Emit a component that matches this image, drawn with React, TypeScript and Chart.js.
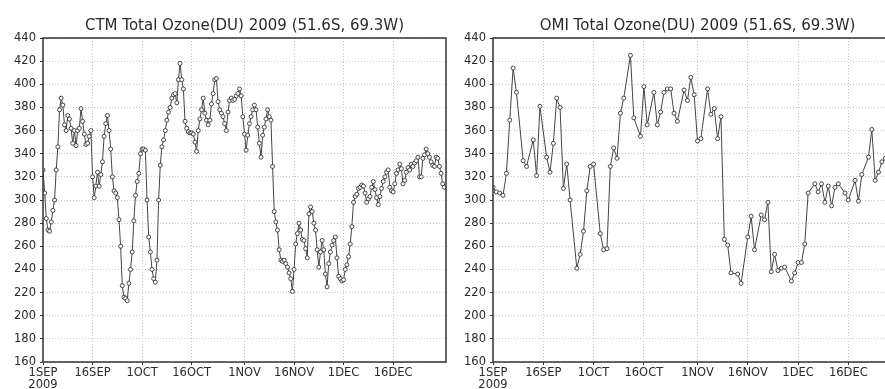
import React, { useEffect, useRef } from "react";
import { Chart, registerables } from "chart.js";

Chart.register(...registerables);

const tickDays = [0, 15, 30, 45, 61, 76, 91, 106];
const tickLabels = ["1SEP", "16SEP", "1OCT", "16OCT", "1NOV", "16NOV", "1DEC", "16DEC"];
const yearLabel = "2009";
const yMin = 160;
const yMax = 440;
const yStep = 20;
const xMaxDay = 122;

const ctmTitle = "CTM Total Ozone(DU) 2009 (51.6S, 69.3W)";
const omiTitle = "OMI Total Ozone(DU) 2009 (51.6S, 69.3W)";

// CTM: two values per day (00h, 12h), from 1 SEP
const ctmValues = [
  326, 306, 284, 274, 273, 281, 291, 300, 326, 346,
  378, 388, 382, 365, 360, 373, 370, 362, 349, 360,
  347, 360, 362, 379, 368, 357, 348, 349, 355, 360,
  320, 302, 312, 324, 312, 322, 333, 355, 366, 373,
  360, 344, 320, 308, 306, 302, 283, 260, 226, 216,
  215, 213, 228, 240, 255, 282, 304, 316, 323, 340,
  344, 344, 343, 300, 268, 255, 240, 232, 229, 248,
  300, 330, 346, 352, 360, 369, 376, 380, 388, 391,
  392, 384, 404, 418, 404, 396, 368, 362, 359, 358,
  358, 357, 350, 342, 360, 370, 378, 388, 375, 369,
  365, 369, 383, 392, 404, 405, 385, 378, 375, 372,
  366, 360, 376, 386, 388, 386, 387, 390, 392, 396,
  390, 372, 357, 343, 356, 366, 372, 378, 382, 378,
  363, 349, 337, 356, 363, 370, 378, 372, 369, 329,
  290, 281, 274, 257, 248, 247, 248, 245, 242, 237,
  232, 221, 240, 262, 271, 280, 274, 266, 265, 258,
  250, 288, 294, 290, 280, 274, 257, 242, 255, 265,
  257, 236, 225, 245, 255, 261, 265, 268, 250, 234,
  232, 230, 231, 240, 244, 251, 262, 277, 298, 303,
  305, 310, 311, 313, 312, 306, 298, 301, 303, 311,
  316, 309, 302, 296, 303, 310, 316, 320, 324, 326,
  311, 308, 307, 314, 323, 326, 331, 327, 314, 317,
  324, 328, 326, 331, 329, 332, 334, 337, 320, 320,
  336, 339, 344, 340, 337, 333, 330, 329, 337, 336,
  329, 323, 314, 311,
];
const ctmStepDays = 0.5;

// OMI: daily overpass values (days since 1 SEP), with missing days
const omiDays = [
  0, 1, 2, 3, 4, 5, 6, 7, 9, 10, 12, 13, 14, 16, 17, 18, 19, 20, 21, 22, 23,
  25, 26, 27, 28, 29, 30, 32, 33, 34, 35, 36, 37, 38, 39, 41, 42, 44, 45, 46,
  48, 49, 50, 51, 52, 53, 54, 55, 57, 58, 59, 60, 61, 62, 64, 65, 66, 67, 68,
  69, 70, 71, 73, 74, 76, 77, 78, 80, 81, 82, 83, 84, 85, 86, 87, 89, 90, 91,
  92, 93, 94, 96, 97, 98, 99, 100, 101, 102, 103, 105, 106, 108, 109, 110,
  112, 113, 114, 115, 116, 117, 118,
];
const omiValues = [
  311, 307, 306, 304, 323, 369, 414, 393, 334, 329, 352, 321, 381, 337, 324,
  349, 388, 380, 310, 331, 300, 241, 253, 273, 308, 329, 331, 271, 257, 258,
  329, 345, 336, 375, 388, 425, 371, 355, 398, 365, 393, 365, 376, 393, 396,
  396, 375, 368, 395, 386, 406, 391, 351, 353, 396, 374, 379, 353, 372, 266,
  261, 237, 236, 228, 268, 286, 257, 287, 283, 298, 238, 253, 239, 241, 242,
  230, 237, 246, 246, 262, 306, 314, 307, 314, 298, 312, 295, 311, 314, 306,
  300, 317, 299, 322, 337, 361, 317, 324, 333, 336, 338,
];

const FONT = "'DejaVu Sans', sans-serif";
const TEXT = "#2a2a2a";

const framePlugin = {
  id: "frame",
  afterDraw(chart: any) {
    const { ctx, chartArea } = chart;
    const { left, top, right, bottom } = chartArea;
    ctx.save();
    ctx.strokeStyle = "#333";
    ctx.lineWidth = 1.5;
    ctx.strokeRect(left, top, right - left, bottom - top);
    ctx.restore();
  },
};

function makeConfig(title: string, points: { x: number; y: number }[]) {
  return {
    type: "line",
    data: {
      datasets: [
        {
          data: points,
          borderColor: "#444",
          borderWidth: 1,
          pointRadius: 2,
          pointBorderWidth: 0.9,
          pointBorderColor: "#333",
          pointBackgroundColor: "#fff",
          tension: 0,
        },
      ],
    },
    options: {
      animation: false,
      responsive: false,
      maintainAspectRatio: false,
      layout: { padding: { left: 0, right: 6, top: 0, bottom: 0 } },
      plugins: {
        legend: { display: false },
        tooltip: { enabled: false },
        title: {
          display: true,
          text: title,
          fullSize: false,
          color: TEXT,
          font: { family: FONT, size: 15, weight: "normal", lineHeight: 1.2 },
          padding: { top: 17, bottom: 3 },
        },
      },
      scales: {
        x: {
          type: "linear",
          min: 0,
          max: xMaxDay,
          afterBuildTicks(scale: any) {
            scale.ticks = tickDays.map((v) => ({ value: v }));
          },
          afterFit(scale: any) {
            scale.height = 27;
          },
          ticks: {
            autoSkip: false,
            maxRotation: 0,
            minRotation: 0,
            padding: 2,
            color: TEXT,
            font: { family: FONT, size: 11.5, lineHeight: 1.05 },
            callback(value: number) {
              const i = tickDays.indexOf(value);
              if (i < 0) return "";
              return i === 0 ? [tickLabels[i], yearLabel] : tickLabels[i];
            },
          },
          grid: {
            color: "#c4c4c4",
            lineWidth: 1,
            drawTicks: true,
            tickLength: 3,
            tickColor: "#333",
          },
          border: { display: false, dash: [1, 2] },
        },
        y: {
          min: yMin,
          max: yMax,
          afterFit(scale: any) {
            scale.width = 43;
          },
          ticks: {
            stepSize: yStep,
            padding: 4,
            color: TEXT,
            font: { family: FONT, size: 11.5 },
          },
          grid: {
            color: "#c4c4c4",
            lineWidth: 1,
            drawTicks: true,
            tickLength: 3,
            tickColor: "#333",
          },
          border: { display: false, dash: [1, 2] },
        },
      },
    },
    plugins: [framePlugin],
  };
}

function OzoneChart(props: {
  title: string;
  points: { x: number; y: number }[];
  left: number;
  width: number;
}) {
  const ref = useRef<HTMLCanvasElement | null>(null);
  useEffect(() => {
    if (!ref.current) return;
    const chart = new Chart(ref.current, makeConfig(props.title, props.points) as any);
    return () => chart.destroy();
  }, []);
  return (
    <canvas
      ref={ref}
      width={props.width}
      height={389}
      style={{
        position: "absolute",
        left: props.left,
        top: 0,
        width: props.width,
        height: 389,
      }}
    />
  );
}

export default function App() {
  const ctmPoints = ctmValues.map((v, i) => ({ x: i * ctmStepDays, y: v }));
  const omiPoints = omiDays.map((d, i) => ({ x: d, y: omiValues[i] }));
  return (
    <div
      style={{
        position: "fixed",
        left: 0,
        top: 0,
        width: 885,
        height: 389,
        overflow: "hidden",
        background: "#fff",
      }}
    >
      <OzoneChart title={ctmTitle} points={ctmPoints} left={0} width={452} />
      <OzoneChart title={omiTitle} points={omiPoints} left={450} width={458} />
    </div>
  );
}
